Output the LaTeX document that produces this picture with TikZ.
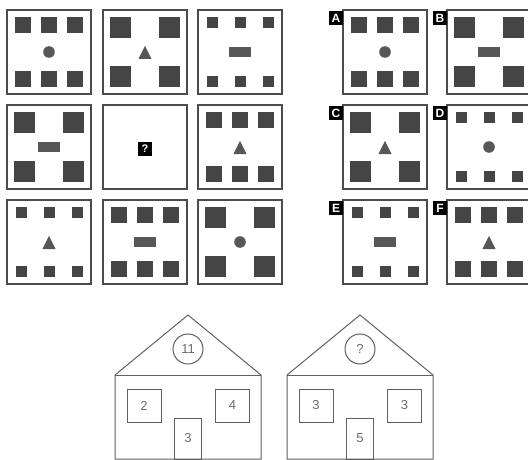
\documentclass[tikz,border=0pt]{standalone}
\usepackage{fontspec}
\setsansfont{Liberation Sans}
\usepackage{tikz}
\usetikzlibrary{positioning,calc}
\tikzset{
  tileframe/.style={draw=black!70, line width=1.3pt},
  tileblock/.style={fill=black!73},
  tilemark/.style={fill=black!66},
  optlabel/.style={fill=black, text=white, inner sep=0pt,
    font=\sffamily\bfseries\fontsize{12}{12}\selectfont,
    minimum width=14pt, minimum height=14pt},
  houseline/.style={draw=black!62, line width=1pt},
  housewin/.style={draw=black!62, line width=1pt, inner sep=0pt,
    font=\sffamily\fontsize{13}{13}\selectfont, text=black!58},
  roofdisc/.style={housewin, circle, minimum size=30pt},
}
%% one square tile of the matrix, centred at (#1,#2)
\newcommand{\puzzletile}[3]{%
  \begin{scope}[shift={(#1,#2)}]
    \draw[tileframe] (-42,-42) rectangle (42,42);
    #3
  \end{scope}
}
%% answer tile with its letter in the corner
\newcommand{\optiontile}[4]{%
  \begin{scope}[shift={(#1,#2)}]
    \draw[tileframe] (-42,-42) rectangle (42,42);
    \node[optlabel] (opt#3) at (-49,-34) {#3};
    #4
  \end{scope}
}
%% block patterns
\newcommand{\sixmid}{\foreach \i in {-26,0,26} \foreach \j in {-27,27}
  \fill[tileblock] (\i-8,\j-8) rectangle (\i+8,\j+8);}
\newcommand{\fourbig}{\foreach \i in {-24.5,24.5} \foreach \j in {-24.5,24.5}
  \fill[tileblock] (\i-10.75,\j-10.75) rectangle (\i+10.75,\j+10.75);}
\newcommand{\sixsmall}{\foreach \i in {-28,0,28} \foreach \j in {-29.5,29.5}
  \fill[tileblock] (\i-5.5,\j-5.5) rectangle (\i+5.5,\j+5.5);}
%% centre marks
\newcommand{\dotmark}{\fill[tilemark] (0,0) circle (5.8pt);}
\newcommand{\trimark}{\fill[tilemark] (-6.6,7) -- (6.6,7) -- (0,-6) -- cycle;}
\newcommand{\barmark}{\fill[tilemark] (-11,-5) rectangle (11,5);}
%% house: centre x, roof, left window, right window, door, name
\newcommand{\drawhouse}[6]{%
  \begin{scope}[shift={(#1,0)}]
    \draw[houseline] (-73,459) -- (-73,375) -- (0,315) -- (73,375)
      -- (73,459) -- cycle;
    \draw[houseline] (-73,375) -- (73,375);
    \node[roofdisc] (#6roof) at (0,349) {#2};
    \node[housewin, minimum width=34pt, minimum height=33pt] (#6left) at (-44,405.5) {#3};
    \node[housewin, minimum width=34pt, minimum height=33pt] (#6right) at (44.5,405.5) {#4};
    \node[housewin, minimum width=27pt, minimum height=41pt] (#6door) at (0,438.5) {#5};
  \end{scope}
}

\begin{document}
\begin{tikzpicture}[x=1pt, y=-1pt]
\useasboundingbox (0,0) rectangle (528,460);
\clip (0,0) rectangle (528,460);

%% Matrix
\puzzletile{49}{52}{\sixmid\dotmark}
\puzzletile{145}{52}{\fourbig\trimark}
\puzzletile{240}{52}{\sixsmall\barmark}
\puzzletile{49}{147}{\fourbig\barmark}
\puzzletile{145}{147}{}
\node[optlabel, font=\sffamily\bfseries\fontsize{11}{11}\selectfont] (missing) at (145,149) {?};
\puzzletile{240}{147}{\sixmid\trimark}
\puzzletile{49}{242}{\sixsmall\trimark}
\puzzletile{145}{242}{\sixmid\barmark}
\puzzletile{240}{242}{\fourbig\dotmark}

%% Answers
\optiontile{385}{52}{A}{\sixmid\dotmark}
\optiontile{489}{52}{B}{\fourbig\barmark}
\optiontile{385}{147}{C}{\fourbig\trimark}
\optiontile{489}{147}{D}{\sixsmall\dotmark}
\optiontile{385}{242}{E}{\sixsmall\barmark}
\optiontile{489}{242}{F}{\sixmid\trimark}

%% Houses
\drawhouse{188}{11}{2}{4}{3}{hA}
\drawhouse{360}{?}{3}{3}{5}{hB}
\end{tikzpicture}
\end{document}
